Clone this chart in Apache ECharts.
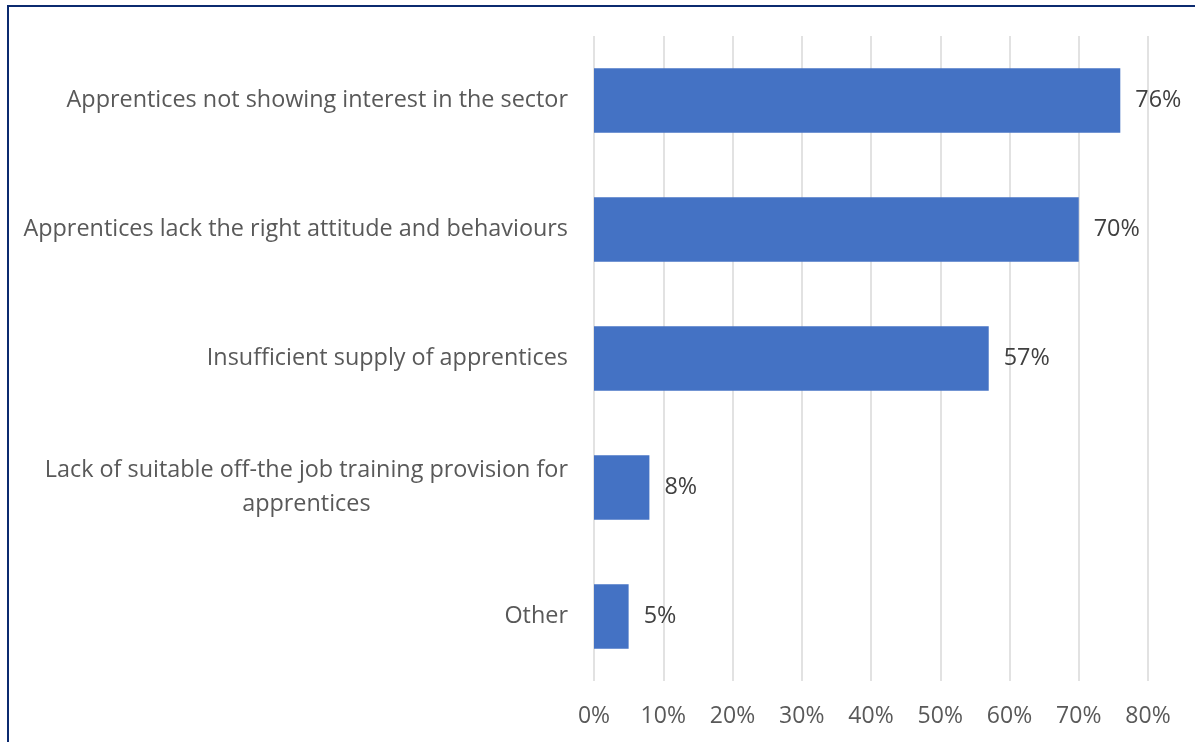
<!DOCTYPE html>
<html>
<head>
<meta charset="utf-8">
<script src="https://cdn.jsdelivr.net/npm/echarts@6/dist/echarts.min.js"></script>
<style>
html,body{margin:0;padding:0;background:#fff;}
#chart{position:absolute;left:0;top:0;width:1195px;height:742px;}
#frame{position:absolute;left:7px;top:5px;width:1200px;height:800px;border-left:2px solid #0b2a6f;border-top:2px solid #0b2a6f;pointer-events:none;}
</style>
</head>
<body>
<div id="chart"></div>
<div id="frame"></div>
<script>
const categories = [
  'Apprentices not showing interest in the sector',
  'Apprentices lack the right attitude and behaviours',
  'Insufficient supply of apprentices',
  'Lack of suitable off-the job training provision for\napprentices',
  'Other'
];
const values = [76, 70, 57, 8, 5];
const xTicks = { min: 0, max: 80, interval: 10 };

const FONT = '"Open Sans", "Noto Sans", sans-serif';
const chart = echarts.init(document.getElementById('chart'));
chart.setOption({
  animation: false,
  grid: { left: 594, right: 47, top: 36, bottom: 61, containLabel: false },
  xAxis: {
    type: 'value', min: xTicks.min, max: xTicks.max, interval: xTicks.interval,
    axisLine: { show: false }, axisTick: { show: false },
    splitLine: { show: true, lineStyle: { color: '#d9d9d9', width: 1.5 } },
    axisLabel: { formatter: v => v + '%', color: '#595959', fontSize: 23, fontFamily: FONT, margin: 24 }
  },
  yAxis: {
    type: 'category', data: categories, inverse: true,
    axisLine: { show: false }, axisTick: { show: false },
    axisLabel: {
      color: '#595959', fontSize: 23.4, fontFamily: FONT, margin: 26, lineHeight: 34,
      formatter: v => v.includes('\n') ? v.split('\n').map(s => '{c|' + s + '}').join('\n') : v,
      rich: { c: { align: 'center', color: '#595959', fontSize: 23.4, fontFamily: FONT, lineHeight: 34 } }
    }
  },
  series: [{
    type: 'bar', data: values, barCategoryGap: '50%',
    itemStyle: { color: '#4472c4' },
    label: { show: true, position: 'right', distance: 15, formatter: p => p.value + '%',
      color: '#404040', fontSize: 23.4, fontFamily: FONT }
  }]
});
</script>
</body>
</html>
